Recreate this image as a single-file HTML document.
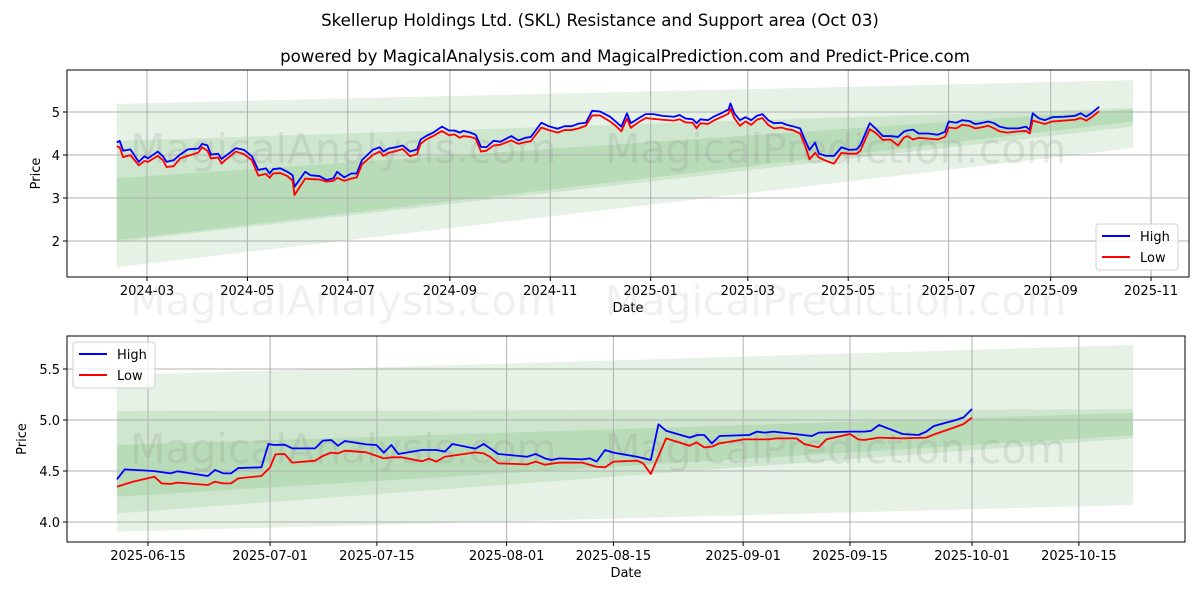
<!DOCTYPE html>
<html><head><meta charset="utf-8"><style>
body{margin:0;background:#fff;}
svg{display:block;font-family:"DejaVu Sans","Liberation Sans",sans-serif;}
</style></head><body>
<svg id="chart" width="1200" height="600" viewBox="0 0 1200 600" xmlns="http://www.w3.org/2000/svg">
<rect width="1200" height="600" fill="#fff"/>
<text x="600" y="26" text-anchor="middle" font-size="16.6">Skellerup Holdings Ltd. (SKL) Resistance and Support area (Oct 03)</text>
<text x="625" y="62" text-anchor="middle" font-size="16.6">powered by MagicalAnalysis.com and MagicalPrediction.com and Predict-Price.com</text>
<g id="top"></g>
<g id="bot"></g>
</svg>
<script>
// ---- top panel data (days since 2024-03-01) ----
const topDays=[-18.4,-16.6,-14.5,-10.1,-5.0,-1.5,0.6,6.5,9.7,11.9,16.2,20.1,24.8,31.3,33.5,36.7,38.9,43.2,45.3,47.5,54.0,58.9,63.7,67.6,72.3,74.5,76.6,81.0,85.3,88.5,89.6,96.1,99.3,104.7,109.0,113.3,115.5,119.8,124.1,127.4,130.6,137.1,141.4,143.6,146.8,151.1,155.4,159.8,164.1,166.2,169.5,173.8,179.2,183.5,186.8,190.0,192.2,196.5,199.7,202.9,206.2,210.5,214.8,221.3,225.6,229.9,233.2,239.6,244.0,249.4,253.7,258.0,262.3,266.6,270.5,275.3,281.3,284.7,288.2,291.6,293.9,298.5,303.0,307.6,313.3,320.2,323.6,327.0,331.6,333.9,336.2,340.8,344.2,348.8,353.3,354.5,356.8,360.2,363.6,367.1,370.5,373.9,377.4,380.8,385.4,388.8,392.2,396.8,400.2,402.5,405.9,408.2,412.8,417.4,421.9,426.5,431.1,433.4,439.1,442.5,447.1,451.7,456.3,459.7,462.0,465.4,468.8,474.6,480.3,484.8,487.1,491.7,495.1,499.7,503.1,506.6,511.1,514.6,518.0,522.6,529.4,534.0,536.3,538.1,542.0,545.4,550.0,556.9,563.7,567.2,570.6,574.0,578.5];
const topHigh=[4.29,4.33,4.10,4.13,3.84,3.97,3.92,4.08,3.97,3.84,3.88,4.01,4.13,4.15,4.26,4.22,4.01,4.03,3.91,3.97,4.16,4.12,3.97,3.65,3.69,3.57,3.67,3.69,3.61,3.53,3.26,3.61,3.53,3.51,3.42,3.46,3.61,3.48,3.57,3.57,3.88,4.12,4.18,4.08,4.15,4.18,4.22,4.08,4.13,4.36,4.44,4.52,4.66,4.57,4.57,4.52,4.56,4.52,4.47,4.19,4.18,4.33,4.31,4.44,4.34,4.40,4.42,4.75,4.67,4.61,4.67,4.67,4.73,4.75,5.03,5.01,4.89,4.78,4.66,4.97,4.74,4.85,4.95,4.95,4.91,4.89,4.93,4.85,4.83,4.74,4.83,4.81,4.89,4.97,5.06,5.20,4.97,4.81,4.88,4.81,4.91,4.95,4.81,4.74,4.75,4.70,4.67,4.62,4.31,4.12,4.29,4.03,3.98,3.98,4.18,4.12,4.13,4.23,4.74,4.62,4.44,4.44,4.42,4.54,4.57,4.59,4.50,4.50,4.47,4.54,4.78,4.75,4.81,4.79,4.72,4.74,4.78,4.74,4.66,4.62,4.62,4.66,4.58,4.97,4.85,4.81,4.88,4.89,4.91,4.97,4.89,4.98,5.12];
const topLow=[4.20,4.18,3.95,4.00,3.76,3.86,3.84,3.98,3.88,3.72,3.74,3.92,3.98,4.06,4.18,4.10,3.92,3.94,3.80,3.88,4.08,4.02,3.88,3.52,3.56,3.47,3.57,3.58,3.51,3.40,3.07,3.45,3.44,3.43,3.38,3.40,3.47,3.40,3.45,3.48,3.78,4.00,4.08,3.98,4.05,4.09,4.14,3.97,4.02,4.26,4.36,4.44,4.56,4.46,4.48,4.40,4.44,4.42,4.38,4.08,4.10,4.22,4.24,4.34,4.26,4.30,4.32,4.64,4.58,4.52,4.58,4.58,4.62,4.68,4.92,4.92,4.78,4.68,4.55,4.85,4.63,4.76,4.86,4.84,4.82,4.80,4.83,4.76,4.75,4.62,4.74,4.72,4.80,4.88,4.96,5.08,4.86,4.68,4.78,4.70,4.82,4.86,4.70,4.62,4.64,4.60,4.58,4.50,4.18,3.90,4.05,3.94,3.86,3.80,4.05,4.03,4.03,4.10,4.60,4.52,4.35,4.36,4.22,4.40,4.44,4.36,4.40,4.38,4.36,4.42,4.64,4.62,4.70,4.68,4.62,4.64,4.68,4.62,4.55,4.52,4.55,4.56,4.50,4.80,4.76,4.72,4.78,4.80,4.82,4.86,4.80,4.88,5.02];
const topYTicks=[2,3,4,5];
const topXTickDays=[0,61,122,184,245,306,365,426,487,549,610];
const topXTickLabels=["2024-03","2024-05","2024-07","2024-09","2024-11","2025-01","2025-03","2025-05","2025-07","2025-09","2025-11"];
const topBandDays=[-18.4,599];
const topOuterTop=[5.19,5.74], topOuterBot=[1.39,4.16];
const topATop=[4.33,5.09], topABot=[1.98,4.66];
const topBTop=[3.46,5.06], topBBot=[2.02,4.78];

// ---- bottom panel data (days since 2025-06-15) ----
const botHighDays=[-4.07,-3.04,0.70,2.94,3.88,7.85,8.79,9.86,10.89,11.82,14.86,15.79,16.5,17.9,18.9,21.9,22.9,24.0,24.9,25.8,28.6,29.95,30.9,31.9,32.8,35.9,37.8,38.9,39.9,42.9,44.0,45.9,49.7,50.8,52.0,52.9,53.9,56.9,57.9,58.8,59.9,61.0,64.1,65.9,66.9,67.9,71.0,72.0,72.9,73.9,74.9,78.8,79.8,80.8,82.0,87.0,87.9,92.0,93.9,94.8,95.8,98.9,101.0,102.0,103.0,105.9,106.9,108.0];
const botHigh=[4.418,4.516,4.50,4.477,4.497,4.451,4.51,4.477,4.477,4.529,4.536,4.765,4.755,4.758,4.722,4.722,4.797,4.804,4.748,4.794,4.761,4.755,4.68,4.755,4.667,4.706,4.706,4.69,4.765,4.719,4.765,4.667,4.64,4.667,4.624,4.608,4.624,4.614,4.624,4.592,4.706,4.68,4.64,4.608,4.958,4.895,4.827,4.853,4.853,4.771,4.843,4.853,4.886,4.876,4.886,4.843,4.876,4.886,4.886,4.895,4.951,4.863,4.853,4.886,4.941,5.0,5.026,5.108];
const botLowDays=[-4.07,-2.0,0.84,1.78,2.94,3.88,7.85,8.79,9.86,10.89,11.82,14.86,16.0,16.7,17.9,18.9,21.9,22.9,24.0,24.9,25.8,28.6,30.9,31.9,33.3,35.9,36.8,37.8,38.9,42.9,44.0,44.8,45.9,49.7,50.8,52.0,53.9,56.9,58.8,59.9,61.0,64.1,64.9,65.9,67.9,71.0,71.9,72.9,73.9,74.9,78.1,81.3,82.3,85.0,86.0,87.9,88.9,92.0,93.1,93.9,95.8,98.9,102.0,103.2,105.7,106.9,108.0];
const botLow=[4.346,4.395,4.444,4.379,4.373,4.386,4.363,4.395,4.379,4.379,4.428,4.451,4.536,4.663,4.667,4.582,4.601,4.647,4.68,4.673,4.699,4.683,4.624,4.634,4.634,4.595,4.621,4.592,4.64,4.683,4.673,4.64,4.575,4.565,4.592,4.562,4.582,4.582,4.542,4.536,4.592,4.601,4.575,4.471,4.82,4.748,4.781,4.732,4.739,4.771,4.81,4.81,4.82,4.82,4.765,4.732,4.81,4.863,4.81,4.804,4.827,4.82,4.827,4.863,4.928,4.961,5.023];
const botYTicks=[4.0,4.5,5.0,5.5];
const botYTickLabels=["4.0","4.5","5.0","5.5"];
const botXTickDays=[0,16,30,47,61,78,92,108,122];
const botXTickLabels=["2025-06-15","2025-07-01","2025-07-15","2025-08-01","2025-08-15","2025-09-01","2025-09-15","2025-10-01","2025-10-15"];
const botBandDays=[-4.07,129.1];
const botOuterTop=[5.441,5.735], botOuterBot=[3.905,4.167];
const botATop=[5.088,5.105], botABot=[4.085,4.82];
const botBTop=[4.755,5.07], botBBot=[4.248,4.85];

const NS="http://www.w3.org/2000/svg";
function mk(parent,tag,attrs,text){const e=document.createElementNS(NS,tag);for(const k in attrs)e.setAttribute(k,attrs[k]);if(text!==undefined)e.textContent=text;parent.appendChild(e);return e;}

function panel(g,cfg){
  const L=cfg.L,R=cfg.R,T=cfg.T,B=cfg.B;
  const xs=d=>cfg.x0+d*cfg.xk;
  const ys=v=>cfg.y0-(v-cfg.v0)*cfg.yk;
  const clip=mk(g,"clipPath",{id:cfg.id+"-clip"});
  mk(clip,"rect",{x:L,y:T,width:R-L,height:B-T});
  const inner=mk(g,"g",{"clip-path":"url(#"+cfg.id+"-clip)"});
  [[cfg.oT,cfg.oB,"outer"],[cfg.aT,cfg.aB,"resistance"],[cfg.bT,cfg.bB,"support"]].forEach(b=>{
    const d0=cfg.bd[0],d1=cfg.bd[1];
    const p=mk(inner,"polygon",{points:`${xs(d0)},${ys(b[0][0])} ${xs(d1)},${ys(b[0][1])} ${xs(d1)},${ys(b[1][1])} ${xs(d0)},${ys(b[1][0])}`,fill:"#008000","fill-opacity":"0.1"});
    
    
  });
  cfg.xt.forEach((d,i)=>{
    const x=xs(d);
    const gl=mk(inner,"line",{x1:x,x2:x,y1:T,y2:B,stroke:"#b0b0b0","stroke-width":1});
    
    
    mk(g,"line",{x1:x,x2:x,y1:B,y2:B+4,stroke:"#000"});
    const t=mk(g,"text",{x:x,y:B+18,"text-anchor":"middle","font-size":13},cfg.xl[i]);
    
    
  });
  cfg.yt.forEach((v,i)=>{
    const y=ys(v);
    const gl=mk(inner,"line",{x1:L,x2:R,y1:y,y2:y,stroke:"#b0b0b0","stroke-width":1});
    
    
    mk(g,"line",{x1:L-4,x2:L,y1:y,y2:y,stroke:"#000"});
    const t=mk(g,"text",{x:L-7,y:y+5,"text-anchor":"end","font-size":13},cfg.yl[i]);
    
    
  });
  cfg.wm.forEach(w=>{
    const t=mk(inner,"text",{x:w[0],y:w[1],"font-size":41,fill:"#808080","fill-opacity":"0.17"},w[2]);
    
    
  });
  const hp=cfg.hd.map((d,i)=>xs(d)+","+ys(cfg.h[i])).join(" ");
  const lp=cfg.ld.map((d,i)=>xs(d)+","+ys(cfg.l[i])).join(" ");
  const hl=mk(inner,"polyline",{points:hp,fill:"none",stroke:"#0000ff","stroke-width":1.8,"stroke-linejoin":"round"});
  
  
  const ll=mk(inner,"polyline",{points:lp,fill:"none",stroke:"#ff0000","stroke-width":1.8,"stroke-linejoin":"round"});
  
  
  const fr=mk(g,"rect",{x:L,y:T,width:R-L,height:B-T,fill:"none",stroke:"#000","stroke-width":1});
  
  
  const xl=mk(g,"text",{x:(L+R)/2,y:B+35,"text-anchor":"middle","font-size":13},"Date");
  
  
  const yl=mk(g,"text",{x:0,y:0,"text-anchor":"middle","font-size":13,transform:`translate(${cfg.ylx},${(T+B)/2}) rotate(-90)`},"Price");
  
  
  const lg=mk(g,"g",{});
  
  
  const [lx,ly]=cfg.leg;
  mk(lg,"rect",{x:lx,y:ly,width:82,height:46,rx:3,fill:"#fff","fill-opacity":"0.8",stroke:"#d0d0d0"});
  [["High","#0000ff",0],["Low","#ff0000",1]].forEach(e=>{
    const it=mk(lg,"g",{});
    
    
    const yy=ly+12+e[2]*21;
    mk(it,"line",{x1:lx+6,x2:lx+34,y1:yy,y2:yy,stroke:e[1],"stroke-width":2});
    mk(it,"text",{x:lx+44,y:yy+5,"font-size":13},e[0]);
  });
}

panel(document.getElementById("top"),{id:"top",L:67,R:1189,T:70,B:277,
  x0:147,xk:1.646,y0:112,v0:5,yk:43,
  xt:topXTickDays,xl:topXTickLabels,yt:topYTicks,yl:topYTicks.map(String),
  hd:topDays,h:topHigh,ld:topDays,l:topLow,
  bd:topBandDays,oT:topOuterTop,oB:topOuterBot,aT:topATop,aB:topABot,bT:topBTop,bB:topBBot,
  wm:[[130,163,"MagicalAnalysis.com"],[605,163,"MagicalPrediction.com"]],
  ylx:40,leg:[1096,224]});
panel(document.getElementById("bot"),{id:"bot",L:67,R:1185,T:336,B:542,
  x0:148,xk:7.63,y0:420,v0:5,yk:102,
  xt:botXTickDays,xl:botXTickLabels,yt:botYTicks,yl:botYTickLabels,
  hd:botHighDays,h:botHigh,ld:botLowDays,l:botLow,
  bd:botBandDays,oT:botOuterTop,oB:botOuterBot,aT:botATop,aB:botABot,bT:botBTop,bB:botBBot,
  wm:[[130,463,"MagicalAnalysis.com"],[605,463,"MagicalPrediction.com"]],
  ylx:26,leg:[73,342]});
const svg=document.getElementById("chart");
[[130,315,"MagicalAnalysis.com"],[605,315,"MagicalPrediction.com"]].forEach(w=>{
  const t=mk(svg,"text",{x:w[0],y:w[1],"font-size":41,fill:"#808080","fill-opacity":"0.12"},w[2]);
  
  
});
</script>
</body></html>
